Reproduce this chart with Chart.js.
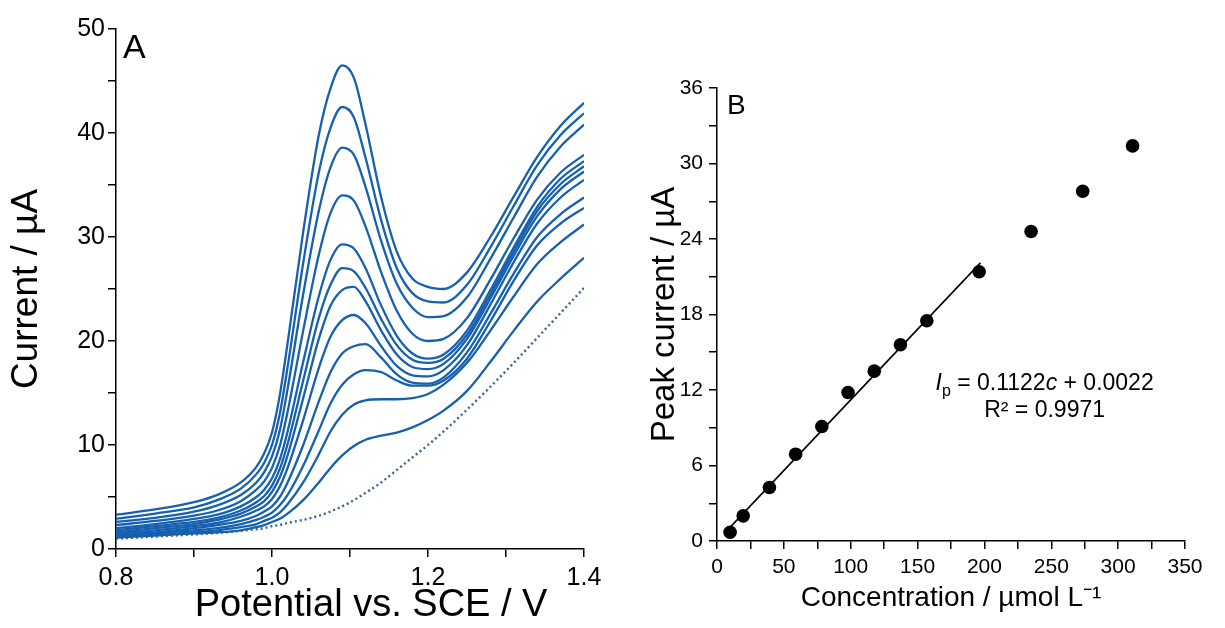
<!DOCTYPE html>
<html>
<head>
<meta charset="utf-8">
<script src="https://cdn.jsdelivr.net/npm/chart.js@4"></script>
<style>
  body { margin: 0; background: #fff; }
  #wrap { position: relative; width: 1225px; height: 628px; overflow: hidden; }
  canvas { position: absolute; top: 0; }
  #chartA { left: 0; }
  #chartB { left: 610px; }
</style>
</head>
<body>
<div id="wrap">
  <canvas id="chartA" width="610" height="628"></canvas>
  <canvas id="chartB" width="615" height="628"></canvas>
</div>
<script>
// panel A - voltammograms (potential in V, current in uA)
const potential = [0.80, 0.85, 0.90, 0.93, 0.96, 0.98, 0.99, 1.00, 1.01, 1.02, 1.04, 1.06, 1.075, 1.09, 1.105, 1.12, 1.14, 1.16, 1.18, 1.20, 1.22, 1.25, 1.28, 1.31, 1.34, 1.37, 1.40];

const curve1  = [3.3, 3.8, 4.5, 5.2, 6.4, 7.9, 9.2, 11.2, 14.8, 19.8, 30.5, 39.8, 44.3, 46.5, 45.3, 40.8, 33.8, 28.6, 26.0, 25.2, 25.0, 26.6, 30.0, 33.9, 37.7, 40.7, 42.9];
const curve2  = [2.9, 3.4, 4.0, 4.7, 5.8, 7.2, 8.3, 10.0, 13.0, 17.5, 27.5, 36.2, 40.5, 42.5, 41.5, 37.6, 31.6, 27.0, 24.6, 23.8, 23.7, 25.4, 29.0, 33.0, 36.9, 39.8, 41.9];
const curve3  = [2.6, 3.0, 3.6, 4.2, 5.2, 6.4, 7.4, 8.9, 11.4, 15.4, 24.5, 32.5, 36.7, 38.6, 37.9, 34.8, 29.6, 25.5, 23.2, 22.3, 22.4, 24.2, 27.9, 31.9, 35.8, 38.7, 40.8];
const curve4  = [2.3, 2.7, 3.2, 3.7, 4.6, 5.7, 6.5, 7.8, 9.9, 13.2, 21.0, 28.3, 32.3, 34.0, 33.5, 31.0, 26.6, 22.9, 20.7, 20.0, 20.2, 22.2, 25.9, 29.9, 33.6, 36.2, 37.9];
const curve5  = [2.0, 2.4, 2.9, 3.3, 4.1, 5.0, 5.7, 6.8, 8.6, 11.3, 18.0, 24.3, 27.8, 29.3, 28.9, 27.0, 23.4, 20.5, 18.8, 18.3, 18.7, 21.0, 24.9, 29.0, 32.9, 35.6, 37.3];
const curve6  = [1.8, 2.2, 2.6, 3.0, 3.7, 4.5, 5.1, 6.1, 7.7, 10.1, 16.2, 22.2, 25.4, 27.0, 26.7, 25.1, 22.1, 19.6, 18.2, 17.9, 18.3, 20.6, 24.5, 28.6, 32.5, 35.1, 36.8];
const curve7  = [1.6, 2.0, 2.4, 2.8, 3.4, 4.1, 4.6, 5.5, 6.9, 9.0, 14.5, 20.2, 23.4, 24.9, 25.2, 23.8, 21.0, 18.7, 17.5, 17.3, 17.8, 20.2, 24.1, 28.2, 32.0, 34.6, 36.3];
const curve8  = [1.5, 1.8, 2.2, 2.5, 3.1, 3.7, 4.1, 4.8, 6.0, 7.8, 12.4, 17.4, 20.4, 22.0, 22.5, 21.7, 19.5, 17.6, 16.7, 16.6, 17.2, 19.6, 23.5, 27.6, 31.3, 33.8, 35.5];
const curve9  = [1.4, 1.6, 2.0, 2.3, 2.7, 3.2, 3.6, 4.1, 5.0, 6.4, 10.0, 14.2, 17.0, 18.8, 19.5, 19.7, 18.4, 16.8, 16.0, 15.9, 16.5, 18.9, 22.6, 26.5, 30.0, 32.2, 33.8];
const curve10 = [1.3, 1.5, 1.8, 2.0, 2.4, 2.8, 3.1, 3.5, 4.2, 5.2, 8.0, 11.4, 14.0, 15.8, 16.8, 17.2, 17.0, 16.2, 15.7, 15.7, 16.2, 18.3, 21.9, 25.8, 29.2, 31.3, 32.8];
const curve11 = [1.2, 1.4, 1.6, 1.8, 2.1, 2.4, 2.7, 3.0, 3.5, 4.3, 6.4, 9.1, 11.3, 12.9, 13.9, 14.3, 14.4, 14.4, 14.5, 14.9, 15.8, 17.9, 21.0, 24.3, 27.4, 29.5, 31.2];
const curve12 = [1.1, 1.3, 1.5, 1.6, 1.8, 2.1, 2.3, 2.6, 2.9, 3.4, 4.7, 6.4, 7.8, 9.0, 9.9, 10.5, 10.9, 11.2, 11.7, 12.4, 13.3, 15.2, 18.0, 21.0, 23.8, 26.0, 28.0];
const blank   = [1.0, 1.2, 1.4, 1.55, 1.75, 1.9, 2.0, 2.2, 2.3, 2.5, 2.8, 3.2, 3.6, 4.1, 4.7, 5.4, 6.4, 7.6, 8.8, 10.0, 11.3, 13.4, 15.6, 17.9, 20.3, 22.7, 25.1];

const xLabelsA = ['0.8', '1.0', '1.2', '1.4'];
const yLabelsA = [0, 10, 20, 30, 40, 50];

// panel B - calibration
const conc = [9.8, 19.6, 39.2, 58.8, 78.4, 98.0, 117.6, 137.2, 156.9, 196.1, 234.9, 273.5, 310.8];
const peakCurrent = [0.7, 2.0, 4.25, 6.9, 9.1, 11.8, 13.5, 15.6, 17.5, 21.4, 24.6, 27.8, 31.4];
const fitConc = [9, 197];
const fitCurrent = [1.0, 22.1];

const xLabelsB = [0, 50, 100, 150, 200, 250, 300, 350];
const yLabelsB = [0, 6, 12, 18, 24, 30, 36];

const FONT = "'Liberation Sans', Arial, Helvetica, sans-serif";
const BLUE = '#1660b0';

function toPoints(xs, ys) {
    return xs.map((x, i) => ({ x: x, y: ys[i] }));
}

function axisStyle(size, pad) {
    return {
        grid: { display: true, drawOnChartArea: false, drawTicks: true, tickLength: 8, color: '#000', lineWidth: 1.5 },
        border: { display: true, color: '#000', width: 1.5 },
        ticks: { color: '#000', font: { family: FONT, size: size }, padding: pad, autoSkip: false, maxRotation: 0 }
    };
}

// panel labels and equation text
const textPlugin = {
    id: 'panelText',
    afterDraw(chart, args, opts) {
        const ctx = chart.ctx;
        const area = chart.chartArea;
        ctx.save();
        ctx.fillStyle = '#000';
        ctx.textBaseline = 'alphabetic';
        ctx.font = opts.labelSize + 'px ' + FONT;
        ctx.textAlign = 'left';
        ctx.fillText(opts.label, area.left + opts.labelDx, area.top + opts.labelDy);

        if (opts.equation) {
            const cx = chart.scales.x.getPixelForValue(opts.eqX);
            const y1 = chart.scales.y.getPixelForValue(opts.eqY);
            const fs = 23;
            const parts = [
                { t: 'I', f: 'italic ' + fs + 'px ' + FONT, dy: 0 },
                { t: 'p', f: (fs - 7) + 'px ' + FONT, dy: 6 },
                { t: ' = 0.1122', f: fs + 'px ' + FONT, dy: 0 },
                { t: 'c', f: 'italic ' + fs + 'px ' + FONT, dy: 0 },
                { t: ' + 0.0022', f: fs + 'px ' + FONT, dy: 0 }
            ];
            let total = 0;
            parts.forEach(p => { ctx.font = p.f; p.w = ctx.measureText(p.t).width; total += p.w; });
            let x = cx - total / 2;
            parts.forEach(p => {
                ctx.font = p.f;
                ctx.fillText(p.t, x, y1 + p.dy);
                x += p.w;
            });
            ctx.font = fs + 'px ' + FONT;
            ctx.textAlign = 'center';
            ctx.fillText('R\u00B2 = 0.9971', cx, y1 + 27);
        }
        ctx.restore();
    }
};

// ---------- chart A ----------
const curves = [curve1, curve2, curve3, curve4, curve5, curve6, curve7, curve8, curve9, curve10, curve11, curve12];
const datasetsA = curves.map(c => ({
    data: toPoints(potential, c),
    borderColor: BLUE,
    borderWidth: 2.3,
    pointRadius: 0,
    cubicInterpolationMode: 'monotone',
    fill: false
}));
datasetsA.push({
    data: toPoints(potential, blank),
    borderColor: '#3a6494',
    borderWidth: 2.4,
    borderDash: [2, 3],
    pointRadius: 0,
    cubicInterpolationMode: 'monotone',
    fill: false
});

const axA = axisStyle(25, 6);
const ayA = axisStyle(25, 3);

new Chart(document.getElementById('chartA'), {
    type: 'line',
    data: { datasets: datasetsA },
    options: {
        responsive: false,
        animation: false,
        layout: { padding: { left: 0, right: 26, top: 29, bottom: 0 } },
        plugins: {
            legend: { display: false },
            tooltip: { enabled: false },
            panelText: { label: 'A', labelSize: 34, labelDx: 7, labelDy: 29 }
        },
        scales: {
            x: {
                type: 'linear', min: 0.8, max: 1.4,
                grid: axA.grid, border: axA.border,
                ticks: Object.assign({}, axA.ticks, {
                    stepSize: 0.1,
                    callback: v => {
                        const s = v.toFixed(1);
                        return xLabelsA.includes(s) ? s : '';
                    }
                }),
                // leading spaces nudge the title right like the original
                title: { display: true, text: '    Potential vs. SCE / V', color: '#000', font: { family: FONT, size: 38 }, padding: { top: 0, bottom: 0 } },
                afterFit: s => { s.height = 79; }
            },
            y: {
                type: 'linear', min: 0, max: 50,
                grid: ayA.grid, border: ayA.border,
                ticks: Object.assign({}, ayA.ticks, {
                    stepSize: 5,
                    callback: v => yLabelsA.includes(v) ? String(v) : ''
                }),
                title: { display: true, text: 'Current / \u00B5A', color: '#000', font: { family: FONT, size: 37 }, padding: { top: 5, bottom: 0 } },
                afterFit: s => { s.width = 116; }
            }
        }
    },
    plugins: [textPlugin]
});

// ---------- chart B ----------
const axB = axisStyle(21, 6);
const ayB = axisStyle(21, 6);

new Chart(document.getElementById('chartB'), {
    type: 'scatter',
    data: {
        datasets: [
            {
                type: 'line',
                data: toPoints(fitConc, fitCurrent),
                borderColor: '#000',
                borderWidth: 1.6,
                pointRadius: 0,
                fill: false
            },
            {
                data: toPoints(conc, peakCurrent),
                backgroundColor: '#000',
                borderColor: '#000',
                pointRadius: 6.8,
                pointBorderWidth: 0
            }
        ]
    },
    options: {
        responsive: false,
        animation: false,
        layout: { padding: { left: 0, right: 40, top: 88, bottom: 0 } },
        plugins: {
            legend: { display: false },
            tooltip: { enabled: false },
            panelText: { label: 'B', labelSize: 28, labelDx: 10, labelDy: 26, equation: true, eqX: 245, eqY: 12.0 }
        },
        scales: {
            x: {
                type: 'linear', min: 0, max: 350,
                grid: axB.grid, border: axB.border,
                ticks: Object.assign({}, axB.ticks, {
                    stepSize: 25,
                    callback: v => xLabelsB.includes(v) ? String(v) : ''
                }),
                title: { display: true, text: 'Concentration / \u00B5mol L\u207B\u00B9', color: '#000', font: { family: FONT, size: 28 }, padding: { top: 0, bottom: 13 } },
                afterFit: s => { s.height = 87; }
            },
            y: {
                type: 'linear', min: 0, max: 36,
                grid: ayB.grid, border: ayB.border,
                ticks: Object.assign({}, ayB.ticks, {
                    stepSize: 3,
                    callback: v => yLabelsB.includes(v) ? String(v) : ''
                }),
                title: { display: true, text: 'Peak current / \u00B5A', color: '#000', font: { family: FONT, size: 33 }, padding: { top: 35, bottom: 0 } },
                afterFit: s => { s.width = 107; }
            }
        }
    },
    plugins: [textPlugin]
});
</script>
</body>
</html>
